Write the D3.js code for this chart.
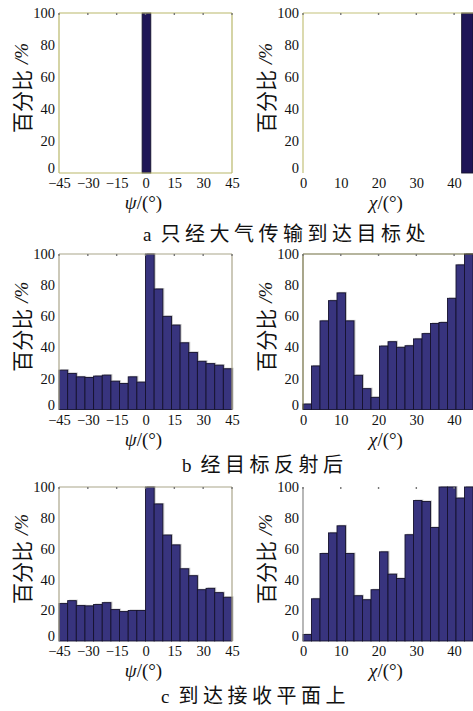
<!DOCTYPE html>
<html><head><meta charset="utf-8">
<script src="https://cdn.jsdelivr.net/npm/d3@7"></script>
<style>
html,body{margin:0;padding:0;background:#fff;}
svg{display:block;}
</style></head>
<body>
<svg id="c" width="473" height="711"></svg>
<script>
// ---------- data ----------
const yTicks = [0, 20, 40, 60, 80, 100];
const psiTicks = [-45, -30, -15, 0, 15, 30, 45];
const chiTicks = [0, 10, 20, 30, 40];
const psiEdges = d3.range(-45, 45.01, 4.5);   // 20 bins of 4.5°
const chiEdges = d3.range(0, 45.01, 2.25);    // 20 bins of 2.25°

// panel a (single bin)
const aPsiLo = [-1.75], aPsiHi = [2.75], aPsiVal = [100];
const aChiLo = [42], aChiHi = [45], aChiVal = [100];

// panel b
const bPsi = [25.3, 23.2, 21, 20.6, 21.5, 22.1, 18.2, 16.7, 21, 17.6,
              100, 77.5, 59.9, 54.3, 42.9, 36.7, 31, 29.5, 28.5, 26.2];
const bChi = [3.5, 28, 57, 70, 75, 57, 22, 13.4, 7.8, 40.8,
              43.6, 40, 41, 45.4, 48.8, 55.3, 56, 71.5, 93, 100];
// panel c
const cPsi = [24.3, 26.2, 23, 22.8, 23.7, 24.9, 20.4, 19.1, 19.8, 19.8,
              100, 89, 68.8, 62.4, 46.9, 42.4, 33.3, 34.2, 31.4, 28.4];
const cChi = [4.2, 27.4, 56.8, 70.2, 74.8, 56.8, 29.4, 26.8, 33.3, 57.9,
              43.4, 40.6, 69, 91.2, 90.6, 73.7, 100, 100, 92.8, 100];

const capLetters = ["a", "b", "c"];
const capTexts = ["只经大气传输到达目标处", "经目标反射后", "到达接收平面上"];

// ---------- layout ----------
const svg = d3.select("#c");
const serif = "'Liberation Serif','DejaVu Serif',serif";
const cjk = "'Noto Sans CJK SC','Noto Sans',sans-serif";

const rows = [
  {top: 13, bottom: 173, cap: 241},
  {top: 254, bottom: 409.5, cap: 472},
  {top: 487, bottom: 641, cap: 703}
];
const L = {x0: 59, x1: 232}, R = {x0: 303, x1: 473};

function panel(opt) {
  const {x0, x1, top, bottom, domain, ticks, bars, fill, frame, frameSides, varName, shadow} = opt;
  const g = svg.append("g");
  const x = d3.scaleLinear().domain(domain).range([x0, x1]);
  const y = d3.scaleLinear().domain([0, 100]).range([bottom, top]);

  // shadow
  if (shadow) {
    g.selectAll("rect.sh").data(bars).join("rect")
      .attr("x", d => x(d.lo) + 1.5).attr("y", d => y(d.v) - 1)
      .attr("width", d => x(d.hi) - x(d.lo)).attr("height", d => y(0) - y(d.v) + 1)
      .attr("fill", "#9a9a9a").attr("opacity", 0.55);
  }
  // bars
  g.selectAll("rect.b").data(bars).join("rect")
    .attr("x", d => x(d.lo)).attr("y", d => y(d.v))
    .attr("width", d => x(d.hi) - x(d.lo)).attr("height", d => y(0) - y(d.v))
    .attr("fill", fill).attr("stroke", "#15122e").attr("stroke-width", 0.9);

  // frame
  const fl = {
    top: [x0, top, x1, top], bottom: [x0, bottom, x1, bottom],
    left: [x0, top, x0, bottom], right: [x1, top, x1, bottom]
  };
  frameSides.forEach(s => {
    const c = fl[s];
    g.append("line").attr("x1", c[0]).attr("y1", c[1]).attr("x2", c[2]).attr("y2", c[3])
      .attr("stroke", frame).attr("stroke-width", 1.2);
  });

  // top tick dots
  g.selectAll("rect.tk").data(ticks).join("rect")
    .attr("x", d => x(d) - 0.7).attr("y", top).attr("width", 1.4).attr("height", 2)
    .attr("fill", "#777");

  // y axis labels
  const yAx = d3.axisLeft(y).tickValues(yTicks).tickSize(0).tickPadding(4);
  const ya = g.append("g").attr("transform", `translate(${x0},0)`).call(yAx);
  ya.select(".domain").remove();
  ya.selectAll("text").attr("font-family", serif).attr("font-size", 14.5).attr("fill", "#111")
    .attr("transform", d => d === 0 ? "translate(0,-5)" : null);

  // x axis labels
  const xAx = d3.axisBottom(x).tickValues(ticks).tickSize(0).tickPadding(5)
    .tickFormat(d => d < 0 ? "\u2212" + Math.abs(d) : d);
  const xa = g.append("g").attr("transform", `translate(0,${bottom})`).call(xAx);
  xa.select(".domain").remove();
  xa.selectAll("text").attr("font-family", serif).attr("font-size", 14.5).attr("fill", "#111");

  // y title
  const cy = (top + bottom) / 2 - 5;
  const yt = g.append("text")
    .attr("transform", `translate(${x0 - 38},${cy}) rotate(-90)`)
    .attr("text-anchor", "middle").attr("dominant-baseline", "central")
    .attr("fill", "#111");
  yt.append("tspan").attr("font-family", cjk).attr("font-size", 21).text("百分比");
  yt.append("tspan").attr("dx", 6).attr("font-family", serif).attr("font-style", "italic").attr("font-size", 19).text("/%");

  // x title
  const xt = g.append("text").attr("x", (x0 + x1) / 2 - 2).attr("y", bottom + 36)
    .attr("text-anchor", "middle").attr("fill", "#111").attr("font-family", serif).attr("font-size", 19);
  xt.append("tspan").attr("font-style", "italic").text(varName);
  xt.append("tspan").text("/(°)");
}

const mk = (edges, vals) => vals.map((v, i) => ({lo: edges[i], hi: edges[i + 1], v}));
const mk2 = (lo, hi, vals) => vals.map((v, i) => ({lo: lo[i], hi: hi[i], v}));

const dark = "#1f1657", blue = "#38347e";

// row a
panel({...L, ...rows[0], domain: [-45, 45], ticks: psiTicks, bars: mk2(aPsiLo, aPsiHi, aPsiVal),
  fill: dark, frame: "#b9b86a", frameSides: ["top", "left", "right", "bottom"], varName: "ψ", shadow: false});
panel({...R, ...rows[0], domain: [0, 45], ticks: chiTicks, bars: mk2(aChiLo, aChiHi, aChiVal),
  fill: dark, frame: "#c4c27a", frameSides: ["top", "left"], varName: "χ", shadow: false});
// row b
panel({...L, ...rows[1], domain: [-45, 45], ticks: psiTicks, bars: mk(psiEdges, bPsi),
  fill: blue, frame: "#aaa58a", frameSides: ["top", "left", "right"], varName: "ψ", shadow: true});
panel({...R, ...rows[1], domain: [0, 45], ticks: chiTicks, bars: mk(chiEdges, bChi),
  fill: blue, frame: "#6f6c3e", frameSides: ["top", "left"], varName: "χ", shadow: true});
// row c
panel({...L, ...rows[2], domain: [-45, 45], ticks: psiTicks, bars: mk(psiEdges, cPsi),
  fill: blue, frame: "#aaa58a", frameSides: ["top", "left", "right"], varName: "ψ", shadow: true});
panel({...R, ...rows[2], domain: [0, 45], ticks: chiTicks, bars: mk(chiEdges, cChi),
  fill: blue, frame: "#888", frameSides: ["left"], varName: "χ", shadow: true});

// captions
const capStart = [143, 182, 161];
rows.forEach((r, i) => {
  const t = svg.append("text").attr("x", capStart[i]).attr("y", r.cap).attr("fill", "#111");
  t.append("tspan").attr("font-family", serif).attr("font-size", 19).text(capLetters[i]);
  t.append("tspan").attr("dx", 9).attr("font-family", cjk).attr("font-size", 20)
    .attr("letter-spacing", 4.5).text(capTexts[i]);
});
</script>
</body></html>
